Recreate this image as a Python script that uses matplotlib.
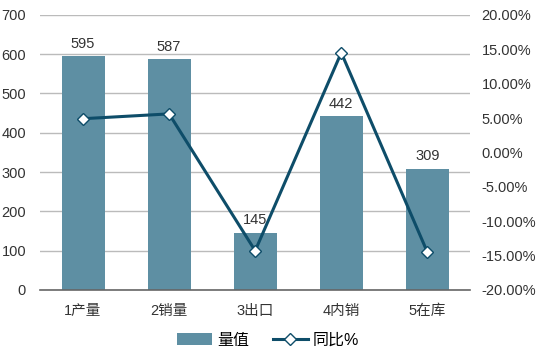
import matplotlib
matplotlib.use("Agg")
import matplotlib.pyplot as plt
from matplotlib.ticker import FuncFormatter

plt.rcParams['font.family'] = ['Liberation Sans', 'Noto Sans CJK SC', 'DejaVu Sans']

categories = ["1产量", "2销量", "3出口", "4内销", "5在库"]
volume = [595, 587, 145, 442, 309]
yoy = [4.9, 5.6, -14.3, 14.5, -14.5]

bar_color = "#5E8FA3"
line_color = "#0E4D69"
text_color = "#333333"

fig = plt.figure(figsize=(5.36, 3.62), dpi=100)
ax = fig.add_axes([0.0746, 0.199, 0.803, 0.76])
x = list(range(len(categories)))
bars = ax.bar(x, volume, width=0.5, color=bar_color, label="量值", zorder=2)
for xi, v in zip(x, volume):
    ax.text(xi, v + 14, str(v), ha="center", va="bottom", fontsize=10.5, color=text_color)
ax.set_xlim(-0.5, 4.5)
ax.set_ylim(0, 700)
ax.set_yticks(range(0, 701, 100))
ax.grid(axis="y", color="#BBBBBB", linewidth=1, zorder=0)
for s in ["top", "right", "left"]:
    ax.spines[s].set_visible(False)
ax.spines["bottom"].set_color("#666666")
ax.spines["bottom"].set_linewidth(1.2)
ax.tick_params(axis="both", length=0, labelsize=10.5, colors=text_color)
ax.tick_params(axis="y", pad=10)
ax.tick_params(axis="x", pad=10)
ax.set_xticks(x)
ax.set_xticklabels(categories)

ax2 = ax.twinx()
ax2.plot(x, yoy, color=line_color, linewidth=2.2, marker="D", markersize=6.5,
         markerfacecolor="white", markeredgecolor=line_color, markeredgewidth=1, label="同比%", zorder=3)
ax2.set_ylim(-20, 20)
ax2.set_yticks(range(-20, 21, 5))
ax2.yaxis.set_major_formatter(FuncFormatter(lambda v, p: f"{v:.2f}%"))
for s in ["top", "right", "left", "bottom"]:
    ax2.spines[s].set_visible(False)
ax2.tick_params(axis="y", length=0, labelsize=10.5, colors=text_color, pad=8)

h1, l1 = ax.get_legend_handles_labels()
h2, l2 = ax2.get_legend_handles_labels()
fig.legend(h1 + h2, l1 + l2, loc="lower center", bbox_to_anchor=(0.5, 0.0), ncol=2,
           frameon=False, fontsize=11.5, handlelength=2.2, columnspacing=1.5, handletextpad=0.3)

fig.savefig("out.png", dpi=100)
